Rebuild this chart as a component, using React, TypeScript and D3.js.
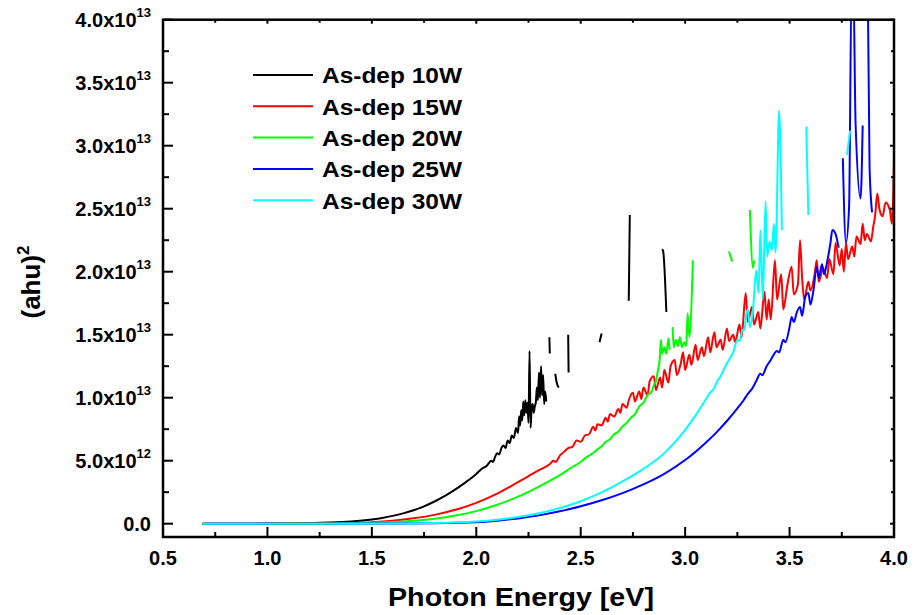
import React from "react";
import * as d3 from "d3";

type Pt = [number, number | null];

// values in units of 1e13, null = gap in the measured curve
const w10: Pt[] = [
  [0.69, 0], [0.8, 0], [0.9, 0], [1.0, 0.001], [1.1, 0.002], [1.2, 0.004], [1.3, 0.009],
  [1.4, 0.018], [1.5, 0.034], [1.55, 0.046], [1.6, 0.062], [1.65, 0.082], [1.7, 0.107],
  [1.75, 0.138], [1.8, 0.176], [1.85, 0.22], [1.9, 0.272], [1.95, 0.33], [2.0, 0.395],
  [2.03, 0.44], [2.05, 0.46], [2.06, 0.48], [2.07, 0.5], [2.08, 0.49],
  [2.09, 0.53], [2.1, 0.56], [2.11, 0.55], [2.12, 0.6], [2.13, 0.62], [2.14, 0.6], [2.15, 0.66],
  [2.16, 0.64], [2.17, 0.7], [2.18, 0.68], [2.19, 0.76], [2.2, 0.72], [2.205, 0.85], [2.21, 0.78],
  [2.215, 0.9], [2.22, 0.82], [2.225, 0.97], [2.23, 0.86], [2.235, 0.98], [2.24, 0.88],
  [2.245, 0.96], [2.25, 0.8], [2.255, 1.37], [2.26, 0.76], [2.265, 0.92], [2.27, 0.95],
  [2.275, 0.88], [2.28, 0.93], [2.285, 0.96], [2.29, 1.08], [2.295, 0.98], [2.3, 1.2],
  [2.305, 1.0], [2.31, 1.25], [2.315, 1.02], [2.32, 1.18], [2.325, 0.95], [2.33, 1.05],
  [2.335, 0.97], [2.34, null],
  [2.35, 1.48], [2.352, 1.35], [2.36, null],
  [2.378, 1.19], [2.385, 1.12], [2.395, 1.08], [2.4, null],
  [2.44, 1.5], [2.442, 1.2], [2.45, null],
  [2.59, 1.44], [2.6, 1.51], [2.62, null],
  [2.73, 1.77], [2.735, 2.45], [2.74, null],
  [2.89, 2.18], [2.895, 2.16], [2.91, 1.68],
];

const w15: Pt[] = [
  [0.69, 0], [1.0, 0], [1.2, 0.002], [1.4, 0.006], [1.5, 0.012], [1.6, 0.024], [1.7, 0.043],
  [1.8, 0.07], [1.9, 0.11], [2.0, 0.165], [2.1, 0.238], [2.2, 0.33], [2.3, 0.425], [2.35, 0.47],
  [2.37, 0.5], [2.38, 0.49], [2.4, 0.54], [2.42, 0.57], [2.44, 0.6], [2.46, 0.61], [2.48, 0.66],
  [2.5, 0.65], [2.52, 0.7], [2.54, 0.71], [2.56, 0.77], [2.57, 0.74], [2.58, 0.79], [2.6, 0.78],
  [2.62, 0.84], [2.63, 0.81], [2.64, 0.87], [2.66, 0.85], [2.68, 0.91], [2.69, 0.88], [2.7, 0.95],
  [2.72, 0.92], [2.73, 0.98], [2.75, 1.04], [2.76, 0.97], [2.78, 1.05], [2.79, 0.99], [2.8, 1.08],
  [2.82, 1.02], [2.83, 1.13], [2.85, 1.17], [2.86, 1.06], [2.88, 1.16], [2.89, 1.08], [2.9, 1.22],
  [2.92, 1.12], [2.93, 1.25], [2.95, 1.3], [2.96, 1.18], [2.98, 1.28], [2.99, 1.36], [3.0, 1.22],
  [3.02, 1.34], [3.03, 1.26], [3.05, 1.42], [3.06, 1.3], [3.08, 1.4], [3.09, 1.33], [3.11, 1.48],
  [3.12, 1.36], [3.14, 1.52], [3.15, 1.4], [3.17, 1.46], [3.18, 1.38], [3.2, 1.55], [3.21, 1.45],
  [3.23, 1.5], [3.24, 1.44], [3.26, 1.58], [3.27, 1.48], [3.29, 1.83], [3.3, 1.6], [3.32, 1.72],
  [3.33, 1.58], [3.35, 1.68], [3.36, 1.55], [3.38, 1.84], [3.39, 1.62], [3.4, 1.78], [3.41, 1.62],
  [3.43, 2.09], [3.44, 1.78], [3.46, 1.98], [3.47, 1.7], [3.49, 1.9], [3.51, 2.04], [3.52, 1.82],
  [3.54, 1.9], [3.55, 2.25], [3.56, 1.95], [3.57, 1.78], [3.59, 1.92], [3.6, 1.85], [3.62, 1.98],
  [3.63, 2.09], [3.64, 1.92], [3.66, 2.03], [3.68, 1.95], [3.69, 2.1], [3.71, 1.98], [3.72, 2.23],
  [3.74, 2.05], [3.75, 2.18], [3.76, 2.0], [3.77, 2.23], [3.78, 2.1], [3.8, 2.2], [3.81, 2.12],
  [3.82, 2.28], [3.84, 2.22], [3.85, 2.38], [3.86, 2.25], [3.87, 2.3], [3.89, 2.24], [3.9, 2.35],
  [3.91, 2.45], [3.92, 2.62], [3.93, 2.5], [3.945, 2.44], [3.96, 2.55], [3.98, 2.49], [3.99, 2.38],
  [4.0, 2.89],
];

const w20: Pt[] = [
  [0.69, 0], [1.0, 0], [1.3, 0.002], [1.5, 0.007], [1.6, 0.013], [1.7, 0.024], [1.8, 0.04],
  [1.9, 0.065], [2.0, 0.1], [2.1, 0.15], [2.2, 0.215], [2.3, 0.295], [2.4, 0.385], [2.45, 0.44],
  [2.5, 0.49], [2.53, 0.53], [2.55, 0.55], [2.58, 0.59], [2.6, 0.615], [2.62, 0.65], [2.64, 0.67],
  [2.66, 0.71], [2.68, 0.73], [2.7, 0.77], [2.72, 0.8], [2.74, 0.84], [2.76, 0.87], [2.78, 0.93],
  [2.8, 0.96], [2.82, 1.02], [2.84, 1.05], [2.85, 1.1], [2.86, 1.13], [2.87, 1.22], [2.878, 1.3],
  [2.884, 1.46], [2.89, 1.35], [2.9, 1.4], [2.91, 1.35], [2.92, 1.47], [2.926, 1.38], [2.93, null],
  [2.94, 1.56], [2.945, 1.4], [2.955, 1.46], [2.965, 1.41], [2.975, 1.48], [2.985, 1.4],
  [2.995, 1.44], [3.005, 1.41], [3.012, 1.67], [3.02, 1.48], [3.037, 2.09], [3.1, null],
  [3.21, 2.16], [3.225, 2.08], [3.25, null],
  [3.31, 2.49], [3.325, 2.03], [3.33, 2.09],
];

const w25: Pt[] = [
  [0.69, 0], [1.0, 0], [1.5, 0.001], [1.8, 0.004], [2.0, 0.012], [2.1, 0.024], [2.2, 0.042],
  [2.3, 0.066], [2.4, 0.098], [2.5, 0.138], [2.6, 0.186], [2.7, 0.243], [2.8, 0.312], [2.9, 0.396],
  [3.0, 0.505], [3.1, 0.645], [3.15, 0.725], [3.2, 0.815], [3.25, 0.915], [3.28, 0.98],
  [3.3, 1.03], [3.32, 1.07], [3.34, 1.13], [3.36, 1.19], [3.37, 1.18], [3.39, 1.25], [3.41, 1.3],
  [3.42, 1.33], [3.44, 1.37], [3.45, 1.36], [3.47, 1.46], [3.48, 1.44], [3.5, 1.56], [3.51, 1.64],
  [3.52, 1.6], [3.535, 1.68], [3.55, 1.72], [3.56, 1.65], [3.575, 1.8], [3.59, 1.83], [3.6, 1.74],
  [3.615, 1.86], [3.63, 2.04], [3.64, 1.95], [3.655, 2.06], [3.665, 1.98], [3.68, 2.08],
  [3.695, 2.22], [3.705, 2.33], [3.72, 2.3], [3.735, 2.19], [3.74, null],
  [3.755, 2.9], [3.77, 2.23], [3.785, 2.52], [3.797, 4.3], [3.805, 4.3], [3.816, 3.18],
  [3.84, 2.58], [3.85, 3.16], [3.86, null],
  [3.874, 4.3], [3.883, 2.83], [3.895, 2.47],
];

const w30: Pt[] = [
  [0.69, 0], [1.0, 0], [1.5, 0.001], [1.8, 0.006], [2.0, 0.018], [2.1, 0.032], [2.2, 0.053],
  [2.3, 0.083], [2.4, 0.124], [2.5, 0.178], [2.6, 0.248], [2.7, 0.335], [2.8, 0.435], [2.85, 0.492],
  [2.9, 0.56], [2.95, 0.645], [3.0, 0.745], [3.05, 0.86], [3.1, 0.99], [3.12, 1.04], [3.14, 1.08],
  [3.15, 1.12], [3.17, 1.17], [3.19, 1.24], [3.21, 1.3], [3.23, 1.36], [3.25, 1.46], [3.26, 1.45],
  [3.275, 1.54], [3.285, 1.54], [3.29, 1.64], [3.3, 1.7], [3.31, 1.56], [3.325, 1.7], [3.34, 2.01],
  [3.352, 1.83], [3.36, 2.33], [3.372, 1.78], [3.385, 2.56], [3.393, 2.12], [3.404, 2.24],
  [3.415, 2.17], [3.425, 2.38], [3.433, 2.15], [3.45, 3.28], [3.463, 2.33], [3.47, null],
  [3.58, 3.15], [3.59, 2.45], [3.6, null],
  [3.775, 2.93], [3.79, 3.12],
];

const seriesData = [w10, w15, w20, w25, w30];
const seriesNames = ["As-dep 10W", "As-dep 15W", "As-dep 20W", "As-dep 25W", "As-dep 30W"];
const seriesColors = ["#000000", "#ff0000", "#00ff00", "#0000ff", "#00ffff"];

const xTicks = [0.5, 1.0, 1.5, 2.0, 2.5, 3.0, 3.5, 4.0];
const xMinor = [0.75, 1.25, 1.75, 2.25, 2.75, 3.25, 3.75];
const yTicks = [0, 0.5, 1.0, 1.5, 2.0, 2.5, 3.0, 3.5, 4.0];
const yMinor = [0.25, 0.75, 1.25, 1.75, 2.25, 2.75, 3.25, 3.75];
const yTickMain = ["0.0", "5.0x10", "1.0x10", "1.5x10", "2.0x10", "2.5x10", "3.0x10", "3.5x10", "4.0x10"];
const yTickExp = ["", "12", "13", "13", "13", "13", "13", "13", "13"];

const FONT = "'Liberation Sans', Arial, Helvetica, sans-serif";

export default function App() {
  const left = 163, right = 894, top = 19.7, bottom = 537;
  const x = d3.scaleLinear().domain([0.5, 4.0]).range([left, right]);
  const y = d3.scaleLinear().domain([-0.1056, 4.0]).range([bottom, top]);

  const line = d3
    .line<Pt>()
    .defined((d) => d[1] !== null)
    .x((d) => x(d[0]))
    .y((d) => y(d[1] as number))
    .curve(d3.curveMonotoneX);

  return (
    <svg
      width={914}
      height={615}
      style={{ position: "absolute", left: 0, top: 0, background: "#fff" }}
      fontFamily={FONT}
      fontWeight="bold"
    >
      <defs>
        <clipPath id="plot">
          <rect x={left} y={top} width={right - left} height={bottom - top} />
        </clipPath>
      </defs>

      <g clipPath="url(#plot)" fill="none" strokeWidth={2} strokeLinejoin="round">
        {seriesData.map((d, i) => (
          <path key={i} d={line(d) || ""} stroke={seriesColors[i]} />
        ))}
      </g>

      {/* frame */}
      <rect x={left} y={top} width={right - left} height={bottom - top} fill="none" stroke="#000" strokeWidth={2.5} />

      {/* x ticks */}
      {xTicks.map((t) => (
        <g key={"x" + t}>
          <line x1={x(t)} x2={x(t)} y1={bottom} y2={bottom - 10} stroke="#000" strokeWidth={2} />
          <line x1={x(t)} x2={x(t)} y1={top} y2={top + 4} stroke="#000" strokeWidth={2} />
          <text x={x(t)} y={565} textAnchor="middle" fontSize={20}>
            {t.toFixed(1)}
          </text>
        </g>
      ))}
      {xMinor.map((t) => (
        <g key={"xm" + t}>
          <line x1={x(t)} x2={x(t)} y1={bottom} y2={bottom - 5} stroke="#000" strokeWidth={2} />
          <line x1={x(t)} x2={x(t)} y1={top} y2={top + 3} stroke="#000" strokeWidth={2} />
        </g>
      ))}

      {/* y ticks */}
      {yTicks.map((t, i) => (
        <g key={"y" + t}>
          <line x1={left} x2={left + 10} y1={y(t)} y2={y(t)} stroke="#000" strokeWidth={2} />
          <line x1={right} x2={right - 4} y1={y(t)} y2={y(t)} stroke="#000" strokeWidth={2} />
          <text x={151} y={y(t) + 7.5} textAnchor="end" fontSize={20}>
            {yTickMain[i]}
            {yTickExp[i] && (
              <tspan fontSize={13} dy={-10}>
                {yTickExp[i]}
              </tspan>
            )}
          </text>
        </g>
      ))}
      {yMinor.map((t) => (
        <g key={"ym" + t}>
          <line x1={left} x2={left + 6} y1={y(t)} y2={y(t)} stroke="#000" strokeWidth={2} />
          <line x1={right} x2={right - 3} y1={y(t)} y2={y(t)} stroke="#000" strokeWidth={2} />
        </g>
      ))}

      {/* axis titles */}
      <text x={521} y={606} textAnchor="middle" fontSize={26} textLength={266} lengthAdjust="spacingAndGlyphs">
        Photon Energy [eV]
      </text>
      <text transform="translate(40,282) rotate(-90)" textAnchor="middle" fontSize={26}>
        (ahu)
        <tspan fontSize={17} dy={-11}>
          2
        </tspan>
      </text>

      {/* legend */}
      {seriesNames.map((name, i) => {
        const ly = 75 + i * 31.3;
        return (
          <g key={name}>
            <line x1={253} x2={313} y1={ly} y2={ly} stroke={seriesColors[i]} strokeWidth={2} />
            <text x={322} y={ly + 8.3} fontSize={22} textLength={140} lengthAdjust="spacingAndGlyphs">
              {name}
            </text>
          </g>
        );
      })}
    </svg>
  );
}
